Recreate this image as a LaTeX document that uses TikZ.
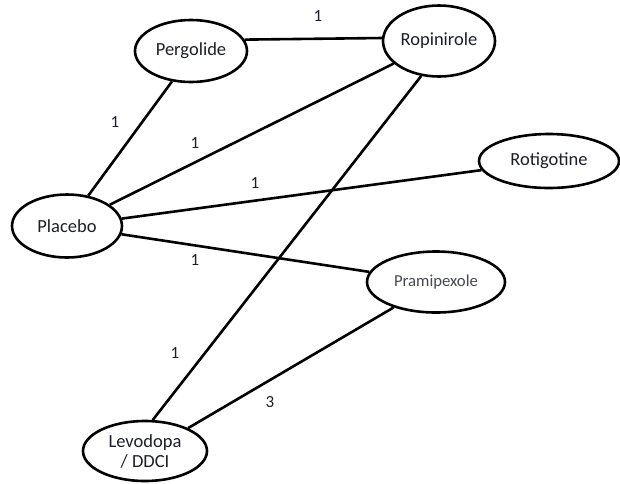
\documentclass[tikz,border=0pt]{standalone}
\usepackage{fontspec}
\setmainfont{Carlito}
\usetikzlibrary{shapes.geometric}
\definecolor{inkdark}{RGB}{28,30,40}
\definecolor{inkgray}{RGB}{70,72,80}
\begin{document}
\begin{tikzpicture}[x=1pt,y=-1pt,
  drug/.style={draw=black,ellipse,line width=2.6pt,inner sep=0pt,
    text=inkdark,font=\fontsize{18.5}{21}\selectfont},
  link/.style={line width=2.6pt,draw=black},
  weight/.style={text=inkdark,font=\fontsize{17}{20}\selectfont,inner sep=0pt}]
\useasboundingbox (0,0) rectangle (620,483);
% treatments
\node[drug,minimum width=112pt,minimum height=62pt] (perg) at (191,51) {Pergolide};
\node[drug,minimum width=112pt,minimum height=71pt] (rop)  at (439,41) {Ropinirole};
\node[drug,minimum width=110pt,minimum height=63pt] (plac) at (67,226) {Placebo};
\node[drug,minimum width=140pt,minimum height=54pt] (rot)  at (549,161) {Rotigotine};
\node[drug,minimum width=138pt,minimum height=61pt,text=inkgray,
      font=\fontsize{16.7}{20}\selectfont] (pram) at (436,282) {Pramipexole};
\node[drug,minimum width=124pt,minimum height=60pt,align=center] (levo) at (145,451)
  {Levodopa\\[-1pt]/ DDCI};
% direct comparisons
\draw[link] (perg.12) -- (rop.177);
\draw[link] (perg.238) -- (plac.55);
\draw[link] (plac) -- (rop);
\draw[link] (plac) -- (rot);
\draw[link] (plac) -- (pram);
\draw[link] (rop.243) -- (levo.76);
\draw[link] (pram.211) -- (levo.28);
% number of trials per comparison
\node[weight] (w1) at (318,16) {1};
\node[weight] (w2) at (115,122) {1};
\node[weight] (w3) at (195,143) {1};
\node[weight] (w4) at (255,183) {1};
\node[weight] (w5) at (195,260) {1};
\node[weight] (w6) at (175,353) {1};
\node[weight] (w7) at (270,402) {3};
\end{tikzpicture}
\end{document}
